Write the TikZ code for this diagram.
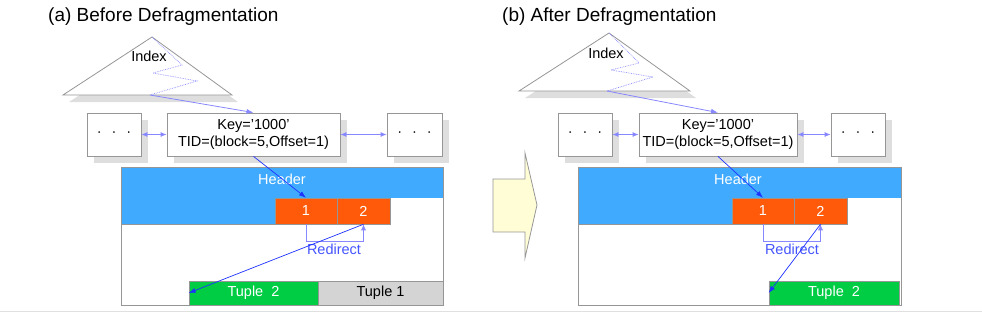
\documentclass[tikz,border=0pt]{standalone}
\usepackage{fontspec}
\setmainfont{Liberation Sans}
\usetikzlibrary{arrows.meta,shadows}
\definecolor{hdrblue}{RGB}{64,170,255}
\definecolor{slotorange}{RGB}{255,90,10}
\definecolor{tupgreen}{RGB}{0,204,68}
\definecolor{tupgray}{RGB}{212,212,212}
\definecolor{shadowgray}{RGB}{222,222,222}
\definecolor{edgegray}{RGB}{150,150,150}
\definecolor{lightarrow}{RGB}{135,135,255}
\definecolor{darkarrow}{RGB}{30,50,255}
\definecolor{redirtext}{RGB}{70,85,255}
\definecolor{bigarrowfill}{RGB}{255,253,214}
\begin{document}
\begin{tikzpicture}[x=1pt,y=-1pt,
  txt/.style={font=\fontsize{14.5}{17}\selectfont, inner sep=0pt},
  titletxt/.style={font=\fontsize{19}{22}\selectfont, inner sep=0pt, anchor=west},
  recbox/.style={draw=edgegray, fill=white, line width=0.8pt, inner sep=0pt,
    minimum height=43pt, align=center, font=\fontsize{14.5}{17}\selectfont,
    drop shadow={shadow xshift=7pt, shadow yshift=-7pt, fill=shadowgray, opacity=1}},
  slot/.style={fill=slotorange, draw=edgegray, line width=0.5pt, inner sep=0pt,
    minimum height=26pt, text=white, font=\fontsize{14.5}{17}\selectfont},
  tuple/.style={draw=edgegray, line width=0.8pt, inner sep=0pt, minimum height=24pt,
    font=\fontsize{14.5}{17}\selectfont},
  lightlink/.style={draw=lightarrow, line width=0.8pt},
  dbl/.style={lightlink, {Latex[length=6pt,width=5pt]}-{Latex[length=6pt,width=5pt]}},
  darklink/.style={draw=darkarrow, line width=0.7pt, -{Latex[length=7pt,width=5pt]}},
  zig/.style={draw=lightarrow, line width=0.7pt, densely dotted},
]
\useasboundingbox (0,0) rectangle (982,313);
\draw[black!12, line width=1.5pt] (0,311.5) -- (982,311.5);

% ================= (a) Before =================
\node[titletxt] (ta) at (48,17) {(a) Before Defragmentation};

% index triangle
\fill[shadowgray] (158,44) -- (69,102) -- (238,102) -- cycle;
\draw[edgegray, fill=white, line width=0.8pt] (152,37) -- (63,95) -- (232,95) -- cycle;
\node[txt] (ia) at (149,56) {Index};
\coordinate (za0) at (152,37);
\coordinate (za1) at (182,65);
\coordinate (za2) at (153,73);
\coordinate (za3) at (197,81);
\coordinate (za4) at (150,95);
\draw[zig] (za0) -- (za1) -- (za2) -- (za3) -- (za4);

% record boxes
\node[recbox, minimum width=54pt] (lda) at (114,134.5) {·\hspace{10pt}·\hspace{10pt}·};
\node[recbox, minimum width=173pt] (ka) at (253.5,134.5) {Key=’1000’\\TID=(block=5,Offset=1)};
\node[recbox, minimum width=55pt] (rda) at (414.5,134.5) {·\hspace{10pt}·\hspace{10pt}·};
\draw[lightlink, -{Latex[length=7pt,width=5pt]}] (za4) -- (ka.north);
\draw[dbl] (lda.east) -- (ka.west);
\draw[dbl] (ka.east) -- (rda.west);

% block
\fill[white] (121,167) rectangle (443,305);
\fill[hdrblue] (121,167) rectangle (443,198);
\fill[hdrblue] (121,198) rectangle (275,224);
\node[txt, text=white] (ha) at (282,179) {Header};
\node[slot, minimum width=62pt] (s1a) at (306,211) {1};
\node[slot, minimum width=53pt] (s2a) at (363.5,211) {2};
\draw[edgegray, line width=0.8pt] (121,224) -- (390,224);
\node[tuple, fill=tupgreen, text=white, minimum width=129pt] (t2a) at (253.5,293) {Tuple\ \ 2};
\node[tuple, fill=tupgray, text=black, minimum width=125pt] (t1a) at (380.5,293) {Tuple 1};
\draw[edgegray, line width=0.8pt] (121,167) rectangle (443,305);

\draw[darklink] (ka.south) -- (s1a.north);
\draw[lightlink, -{Latex[length=6pt,width=5pt]}] (s1a.south) -- ++(0,17) -| (s2a.south);
\node[txt, text=redirtext] (ra) at (334,249) {Redirect};
\draw[darklink] (s2a.south) -- (t2a.west);

% ================= big arrow =================
\draw[edgegray, fill=bigarrowfill, line width=0.8pt]
  (493,179) -- (525,179) -- (525,153) -- (537,205) -- (525,258) -- (525,232) -- (493,232) -- cycle;

% ================= (b) After =================
\node[titletxt] (tb) at (502,17) {(b) After Defragmentation};

\fill[shadowgray] (615,40) -- (525,98) -- (696,98) -- cycle;
\draw[edgegray, fill=white, line width=0.8pt] (609,33) -- (519,91) -- (690,91) -- cycle;
\node[txt] (ib) at (606,53) {Index};
\coordinate (zb0) at (609,33);
\coordinate (zb1) at (639,63);
\coordinate (zb2) at (611,70);
\coordinate (zb3) at (653,77);
\coordinate (zb4) at (607,91);
\draw[zig] (zb0) -- (zb1) -- (zb2) -- (zb3) -- (zb4);

\node[recbox, minimum width=54pt] (ldb) at (585,134.5) {·\hspace{10pt}·\hspace{10pt}·};
\node[recbox, minimum width=158pt] (kb) at (718,134.5) {Key=’1000’\\TID=(block=5,Offset=1)};
\node[recbox, minimum width=54pt] (rdb) at (858,134.5) {·\hspace{10pt}·\hspace{10pt}·};
\draw[lightlink, -{Latex[length=7pt,width=5pt]}] (zb4) -- (kb.north);
\draw[dbl] (ldb.east) -- (kb.west);
\draw[dbl] (kb.east) -- (rdb.west);

\fill[white] (578,167) rectangle (901,305);
\fill[hdrblue] (578,167) rectangle (901,198);
\fill[hdrblue] (578,198) rectangle (732,224);
\node[txt, text=white] (hb) at (738,179) {Header};
\node[slot, minimum width=62pt] (s1b) at (763,211) {1};
\node[slot, minimum width=53pt] (s2b) at (820.5,211) {2};
\draw[edgegray, line width=0.8pt] (578,224) -- (847,224);
\node[tuple, fill=tupgreen, text=white, minimum width=130pt] (t2b) at (834,293) {Tuple\ \ 2};
\draw[edgegray, line width=0.8pt] (578,167) rectangle (901,305);

\draw[darklink] (kb.south) -- (s1b.north);
\draw[lightlink, -{Latex[length=6pt,width=5pt]}] (s1b.south) -- ++(0,17) -| (s2b.south);
\node[txt, text=redirtext] (rb) at (792,249) {Redirect};
\draw[darklink] (s2b.south) -- (t2b.west);
\end{tikzpicture}
\end{document}
